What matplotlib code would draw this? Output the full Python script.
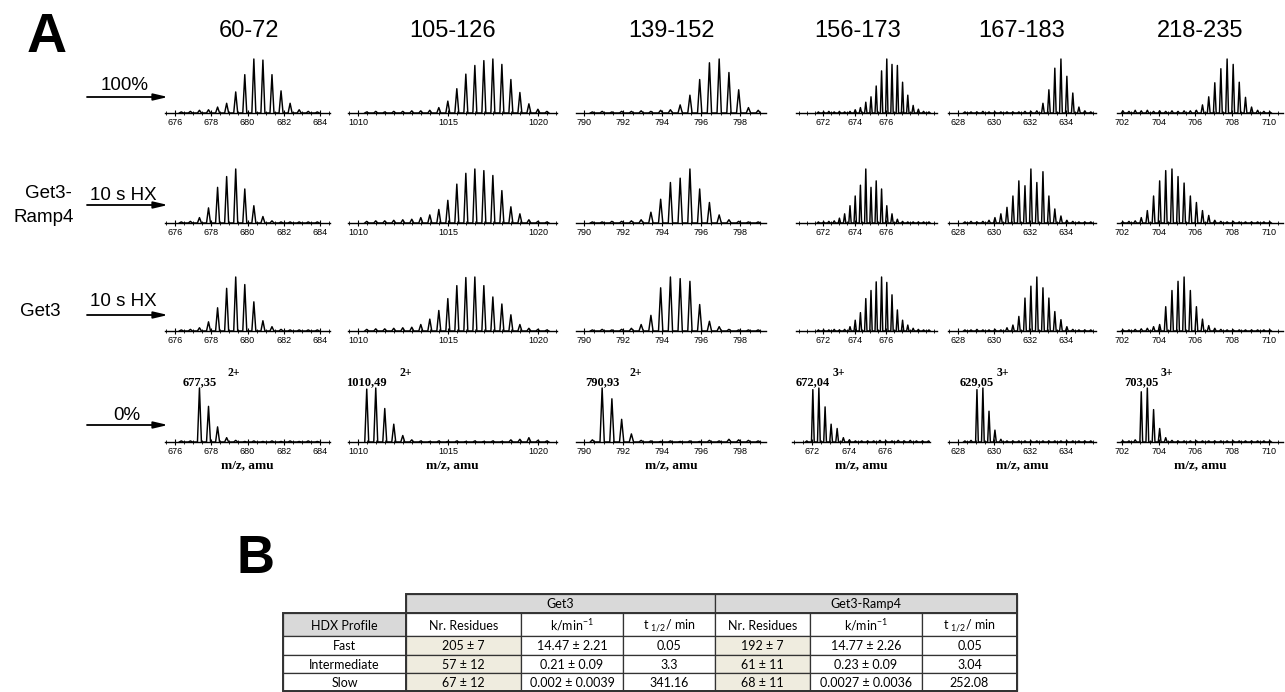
import matplotlib
matplotlib.use("Agg")
import matplotlib.pyplot as plt
from matplotlib.patches import Rectangle
from matplotlib.ticker import MultipleLocator

plt.rcParams['font.family'] = ['Liberation Sans', 'DejaVu Sans']
plt.rcParams['mathtext.fontset'] = 'custom'
plt.rcParams['mathtext.rm'] = 'Lato'
plt.rcParams['mathtext.it'] = 'Lato:italic'
plt.rcParams['mathtext.bf'] = 'Lato:bold'

W, H = 1285, 692

# ---- panel A data: isotope peaks (m/z, relative intensity) ----
titles = ["60-72", "105-126", "139-152", "156-173", "167-183", "218-235"]
mono_labels = ["677,35", "1010,49", "790,93", "672,04", "629,05", "703,05"]
mono_mz = [677.35, 1010.49, 790.93, 672.04, 629.05, 703.05]
charges = ["2+", "2+", "2+", "3+", "3+", "3+"]

ticks_p1 = [676, 678, 680, 682, 684]
ticks_p2 = [1010, 1015, 1020]
ticks_p3 = [790, 792, 794, 796, 798]
ticks_p4 = [672, 674, 676]
ticks_p5 = [628, 630, 632, 634]
ticks_p6 = [702, 704, 706, 708, 710]

# 60-72 (2+)
mz_p1 = [676.35, 676.85, 677.35, 677.85, 678.35, 678.85, 679.35, 679.85,
         680.35, 680.85, 681.35, 681.85, 682.35, 682.85, 683.35, 683.85]
p1_100 = [0.02, 0.03, 0.05, 0.06, 0.11, 0.18, 0.39, 0.71, 1.0, 0.98, 0.71, 0.41, 0.18, 0.06, 0.03, 0.02]
p1_ramp = [0.02, 0.03, 0.10, 0.28, 0.66, 0.86, 1.0, 0.63, 0.32, 0.12, 0.04, 0.02, 0.02, 0.02, 0.02, 0.02]
p1_get3 = [0.02, 0.03, 0.06, 0.17, 0.43, 0.79, 1.0, 0.86, 0.54, 0.19, 0.08, 0.03, 0.02, 0.02, 0.02, 0.02]
p1_0 = [0.02, 0.02, 1.0, 0.66, 0.28, 0.08, 0.03, 0.01, 0.02, 0.01, 0.02, 0.01, 0.02, 0.01, 0.02, 0.01]

# 105-126 (2+)
mz_p2 = [1010.49, 1010.99, 1011.49, 1011.99, 1012.49, 1012.99, 1013.49, 1013.99, 1014.49,
         1014.99, 1015.49, 1015.99, 1016.49, 1016.99, 1017.49, 1017.99, 1018.49, 1018.99,
         1019.49, 1019.99, 1020.49]
p2_100 = [0.02, 0.03, 0.02, 0.03, 0.03, 0.04, 0.04, 0.05, 0.10, 0.22, 0.45, 0.72, 0.88, 0.97,
          1.0, 0.90, 0.62, 0.38, 0.17, 0.07, 0.03]
p2_ramp = [0.03, 0.04, 0.04, 0.05, 0.06, 0.07, 0.10, 0.15, 0.25, 0.42, 0.72, 0.92, 1.0, 0.97,
           0.88, 0.60, 0.30, 0.17, 0.06, 0.03, 0.02]
p2_get3 = [0.03, 0.04, 0.04, 0.05, 0.06, 0.07, 0.12, 0.22, 0.38, 0.60, 0.84, 0.99, 1.0, 0.84,
           0.63, 0.50, 0.30, 0.12, 0.05, 0.03, 0.02]
p2_0 = [0.98, 1.0, 0.62, 0.33, 0.12, 0.04, 0.02, 0.01, 0.02, 0.01, 0.02, 0.01, 0.02, 0.01,
        0.02, 0.01, 0.04, 0.05, 0.08, 0.03, 0.02]

# 139-152 (2+)
mz_p3 = [790.43, 790.93, 791.43, 791.93, 792.43, 792.93, 793.43, 793.93, 794.43,
         794.93, 795.43, 795.93, 796.43, 796.93, 797.43, 797.93, 798.43, 798.93]
p3_100 = [0.02, 0.03, 0.02, 0.03, 0.03, 0.04, 0.03, 0.05, 0.06, 0.15, 0.33, 0.62, 0.93, 1.0,
          0.75, 0.43, 0.10, 0.05]
p3_ramp = [0.02, 0.02, 0.03, 0.03, 0.04, 0.06, 0.20, 0.44, 0.75, 0.83, 1.0, 0.63, 0.38, 0.15,
           0.06, 0.03, 0.02, 0.02]
p3_get3 = [0.02, 0.03, 0.02, 0.03, 0.05, 0.12, 0.29, 0.80, 1.0, 0.97, 0.92, 0.49, 0.18, 0.08,
           0.03, 0.02, 0.02, 0.02]
p3_0 = [0.04, 1.0, 0.80, 0.42, 0.15, 0.03, 0.02, 0.01, 0.02, 0.01, 0.02, 0.01, 0.03, 0.02,
        0.05, 0.04, 0.03, 0.02]

# 156-173 (3+)
mz_p4 = [671.71, 672.04, 672.37, 672.71, 673.04, 673.37, 673.71, 674.04, 674.37, 674.71, 675.04,
         675.37, 675.71, 676.04, 676.37, 676.71, 677.04, 677.37, 677.71, 678.04, 678.37, 678.71]
p4_100 = [0.02, 0.02, 0.03, 0.02, 0.03, 0.02, 0.03, 0.06, 0.10, 0.20, 0.30, 0.50, 0.78, 1.0,
          0.90, 0.88, 0.57, 0.33, 0.14, 0.07, 0.03, 0.02]
p4_ramp = [0.02, 0.02, 0.03, 0.04, 0.09, 0.17, 0.32, 0.50, 0.70, 1.0, 0.66, 0.78, 0.63, 0.32,
           0.17, 0.07, 0.03, 0.02, 0.02, 0.02, 0.02, 0.02]
p4_get3 = [0.02, 0.02, 0.02, 0.03, 0.02, 0.03, 0.08, 0.20, 0.34, 0.60, 0.75, 0.91, 1.0, 0.90,
           0.67, 0.39, 0.20, 0.11, 0.05, 0.03, 0.02, 0.02]
p4_0 = [0.02, 0.97, 1.0, 0.65, 0.33, 0.25, 0.08, 0.04, 0.02, 0.02, 0.02, 0.02, 0.03, 0.02,
        0.02, 0.03, 0.02, 0.03, 0.02, 0.02, 0.02, 0.02]

# 167-183 (3+)
mz_p5 = [628.38, 628.72, 629.05, 629.38, 629.72, 630.05, 630.38, 630.72, 631.05, 631.38, 631.72,
         632.05, 632.38, 632.72, 633.05, 633.38, 633.72, 634.05, 634.38, 634.72, 635.05, 635.38]
p5_100 = [0.02, 0.02, 0.02, 0.03, 0.02, 0.02, 0.02, 0.02, 0.02, 0.02, 0.03, 0.03, 0.04, 0.18,
          0.43, 0.83, 1.0, 0.68, 0.37, 0.11, 0.04, 0.02]
p5_ramp = [0.02, 0.03, 0.02, 0.03, 0.05, 0.10, 0.17, 0.29, 0.50, 0.78, 0.69, 1.0, 0.75, 0.95,
           0.50, 0.26, 0.13, 0.05, 0.03, 0.02, 0.02, 0.02]
p5_get3 = [0.02, 0.02, 0.03, 0.02, 0.02, 0.03, 0.02, 0.06, 0.11, 0.27, 0.61, 0.83, 1.0, 0.80,
           0.61, 0.36, 0.21, 0.08, 0.03, 0.02, 0.02, 0.02]
p5_0 = [0.02, 0.03, 0.97, 1.0, 0.57, 0.22, 0.05, 0.02, 0.02, 0.02, 0.02, 0.02, 0.02, 0.02,
        0.02, 0.02, 0.02, 0.02, 0.02, 0.02, 0.02, 0.02]

# 218-235 (3+)
mz_p6 = [702.05, 702.38, 702.72, 703.05, 703.38, 703.72, 704.05, 704.38, 704.72, 705.05,
         705.38, 705.72, 706.05, 706.38, 706.72, 707.05, 707.38, 707.72, 708.05, 708.38,
         708.72, 709.05, 709.38, 709.72, 710.05]
p6_100 = [0.04, 0.03, 0.05, 0.04, 0.05, 0.03, 0.04, 0.03, 0.04, 0.03, 0.04, 0.04, 0.05, 0.15,
          0.30, 0.56, 0.82, 1.0, 0.90, 0.57, 0.29, 0.11, 0.05, 0.03, 0.02]
p6_ramp = [0.02, 0.03, 0.04, 0.10, 0.23, 0.50, 0.78, 0.97, 1.0, 0.86, 0.74, 0.50, 0.38, 0.23,
           0.14, 0.05, 0.03, 0.02, 0.03, 0.02, 0.02, 0.02, 0.02, 0.02, 0.02]
p6_get3 = [0.02, 0.02, 0.03, 0.04, 0.05, 0.08, 0.12, 0.45, 0.75, 0.92, 1.0, 0.75, 0.45, 0.22,
           0.10, 0.05, 0.03, 0.02, 0.02, 0.02, 0.02, 0.02, 0.02, 0.02, 0.02]
p6_0 = [0.02, 0.02, 0.04, 0.93, 1.0, 0.60, 0.25, 0.08, 0.03, 0.02, 0.02, 0.02, 0.02, 0.02,
        0.02, 0.02, 0.02, 0.02, 0.02, 0.02, 0.02, 0.02, 0.02, 0.02, 0.02]

# ---- panel B table data ----
hdx_profiles = ["Fast", "Intermediate", "Slow"]
get3_res = ["205 ± 7", "57 ± 12", "67 ± 12"]
get3_k = ["14.47 ± 2.21", "0.21 ± 0.09", "0.002 ± 0.0039"]
get3_t = ["0.05", "3.3", "341.16"]
ramp_res = ["192 ± 7", "61 ± 11", "68 ± 11"]
ramp_k = ["14.77 ± 2.26", "0.23 ± 0.09", "0.0027 ± 0.0036"]
ramp_t = ["0.05", "3.04", "252.08"]

# ---- layout (pixels) ----
panels = [
    (mz_p1, [p1_100, p1_ramp, p1_get3, p1_0], ticks_p1, 0.11),
    (mz_p2, [p2_100, p2_ramp, p2_get3, p2_0], ticks_p2, 0.11),
    (mz_p3, [p3_100, p3_ramp, p3_get3, p3_0], ticks_p3, 0.11),
    (mz_p4, [p4_100, p4_ramp, p4_get3, p4_0], ticks_p4, 0.075),
    (mz_p5, [p5_100, p5_ramp, p5_get3, p5_0], ticks_p5, 0.075),
    (mz_p6, [p6_100, p6_ramp, p6_get3, p6_0], ticks_p6, 0.075),
]
col_px = [(165, 330), (348, 557), (576, 766), (796, 937), (948, 1096), (1117, 1283)]
col_xlim = [(675.45, 684.55), (1009.45, 1021.05), (789.59, 799.33),
            (670.29, 679.22), (627.44, 635.67), (701.73, 710.76)]
bottom_px = [(165, 330), (348, 557), (576, 766), (792, 930), (948, 1096), (1117, 1283)]
bottom_xlim = [(675.45, 684.55), (1009.45, 1021.05), (789.59, 799.33),
               (670.9, 678.45), (627.44, 635.67), (701.73, 710.76)]
title_x = [249, 453, 672, 858, 1022, 1200]
charge_gap = [9, 11, 9, 1, 1, 1]
row_base = [113, 223, 331, 442]
peak_px = 54

fig = plt.figure(figsize=(W / 100, H / 100), dpi=100)


def rect(left, right, base):
    h = peak_px * 1.08
    bottom = base + 0.04 * peak_px
    return [left / W, (H - bottom) / H, (right - left) / W, h / H]


for c, (mz, rows, ticks, hw) in enumerate(panels):
    for r in range(4):
        left, right = bottom_px[c] if r == 3 else col_px[c]
        xl = bottom_xlim[c] if r == 3 else col_xlim[c]
        ax = fig.add_axes(rect(left, right, row_base[r]))
        xs, ys = [], []
        for m, v in zip(mz, rows[r]):
            xs += [m - hw, m, m + hw]
            ys += [0, v, 0]
        ax.plot(xs, ys, color='black', lw=1.05)
        ax.set_xlim(*xl)
        ax.set_ylim(-0.04, 1.04)
        for s in ['top', 'left', 'right']:
            ax.spines[s].set_visible(False)
        ax.spines['bottom'].set_position(('data', 0))
        ax.spines['bottom'].set_linewidth(1.0)
        ax.set_yticks([])
        ax.set_xticks(ticks)
        ax.xaxis.set_minor_locator(MultipleLocator(0.5))
        ax.tick_params(axis='x', which='major', direction='inout', length=4, width=0.8,
                       labelsize=6.5, pad=1.5)
        ax.tick_params(axis='x', which='minor', direction='inout', length=2.5, width=0.6)
        ax.patch.set_alpha(0)
        if r == 3:
            ax.set_xlabel("m/z, amu", family='Liberation Serif', fontweight='bold',
                          fontsize=9.5, labelpad=2.5)
            lab = mono_labels[c]
            ax.annotate(lab, xy=(mono_mz[c], 1.0), xytext=(0, 3), textcoords='offset pixels',
                        ha='center', va='baseline', family='Liberation Serif',
                        fontweight='bold', fontsize=9)
            ax.annotate(charges[c], xy=(mono_mz[c], 1.0),
                        xytext=(3.1 * len(lab) + charge_gap[c], 12), textcoords='offset pixels',
                        ha='left', va='baseline', family='Liberation Serif',
                        fontweight='bold', fontsize=8.5)

# overlay for labels, arrows and table
ax0 = fig.add_axes([0, 0, 1, 1])
ax0.set_xlim(0, W)
ax0.set_ylim(H, 0)
ax0.axis('off')
ax0.patch.set_alpha(0)

ax0.text(27, 52, "A", fontsize=40, fontweight='bold', ha='left', va='baseline')
ax0.text(236, 573, "B", fontsize=38, fontweight='bold', ha='left', va='baseline')
for x, t in zip(title_x, titles):
    ax0.text(x, 37, t, fontsize=17, ha='center', va='baseline')

arrow_y = [97, 205, 315, 425]
for y in arrow_y:
    ax0.annotate('', xy=(168, y), xytext=(87, y),
                 arrowprops=dict(arrowstyle='-|>,head_length=0.85,head_width=0.2',
                                 lw=1.3, color='black', shrinkA=0, shrinkB=0))
ax0.text(125, 86, "100%", fontsize=13.5, ha='center', va='center')
ax0.text(123, 196, "10 s HX", fontsize=13.5, ha='center', va='center')
ax0.text(48, 194, "Get3-", fontsize=13.5, ha='center', va='center')
ax0.text(44, 217, "Ramp4", fontsize=13.5, ha='center', va='center')
ax0.text(123, 301, "10 s HX", fontsize=13.5, ha='center', va='center')
ax0.text(40, 311, "Get3", fontsize=13.5, ha='center', va='center')
ax0.text(127, 415, "0%", fontsize=13.5, ha='center', va='center')

# table
col_edges = [283, 406, 521, 623, 715, 810, 922, 1017]
row_edges = [594, 613, 636, 655, 673, 691]
gray = '#d9d9d9'
beige = '#efecdf'
edge = '#333333'


def cell(x0, x1, y0, y1, txt, fc='white'):
    ax0.add_patch(Rectangle((x0, y0), x1 - x0, y1 - y0, facecolor=fc, edgecolor=edge, lw=0.9))
    ax0.text((x0 + x1) / 2, (y0 + y1) / 2 + 1, txt, ha='center', va='center',
             family='Lato', fontsize=9)


cell(col_edges[1], col_edges[4], row_edges[0], row_edges[1], "Get3", gray)
cell(col_edges[4], col_edges[7], row_edges[0], row_edges[1], "Get3-Ramp4", gray)
cell(col_edges[0], col_edges[1], row_edges[1], row_edges[2], "HDX Profile", gray)
sub = ["Nr. Residues", r"k/min$^{-1}$", r"t $_{1/2}$/ min"] * 2
for i, s in enumerate(sub):
    cell(col_edges[i + 1], col_edges[i + 2], row_edges[1], row_edges[2], s)
for j, name in enumerate(hdx_profiles):
    vals = [get3_res[j], get3_k[j], get3_t[j], ramp_res[j], ramp_k[j], ramp_t[j]]
    y0, y1 = row_edges[j + 2], row_edges[j + 3]
    cell(col_edges[0], col_edges[1], y0, y1, name)
    for i, v in enumerate(vals):
        cell(col_edges[i + 1], col_edges[i + 2], y0, y1, v, beige if i in (0, 3) else 'white')

# heavier outer frame
ax0.add_patch(Rectangle((col_edges[1], row_edges[0]), col_edges[7] - col_edges[1],
                        row_edges[-1] - row_edges[0], fill=False, edgecolor=edge, lw=1.4))
ax0.add_patch(Rectangle((col_edges[0], row_edges[1]), col_edges[7] - col_edges[0],
                        row_edges[-1] - row_edges[1], fill=False, edgecolor=edge, lw=1.4))

fig.savefig("out.png", dpi=100)
